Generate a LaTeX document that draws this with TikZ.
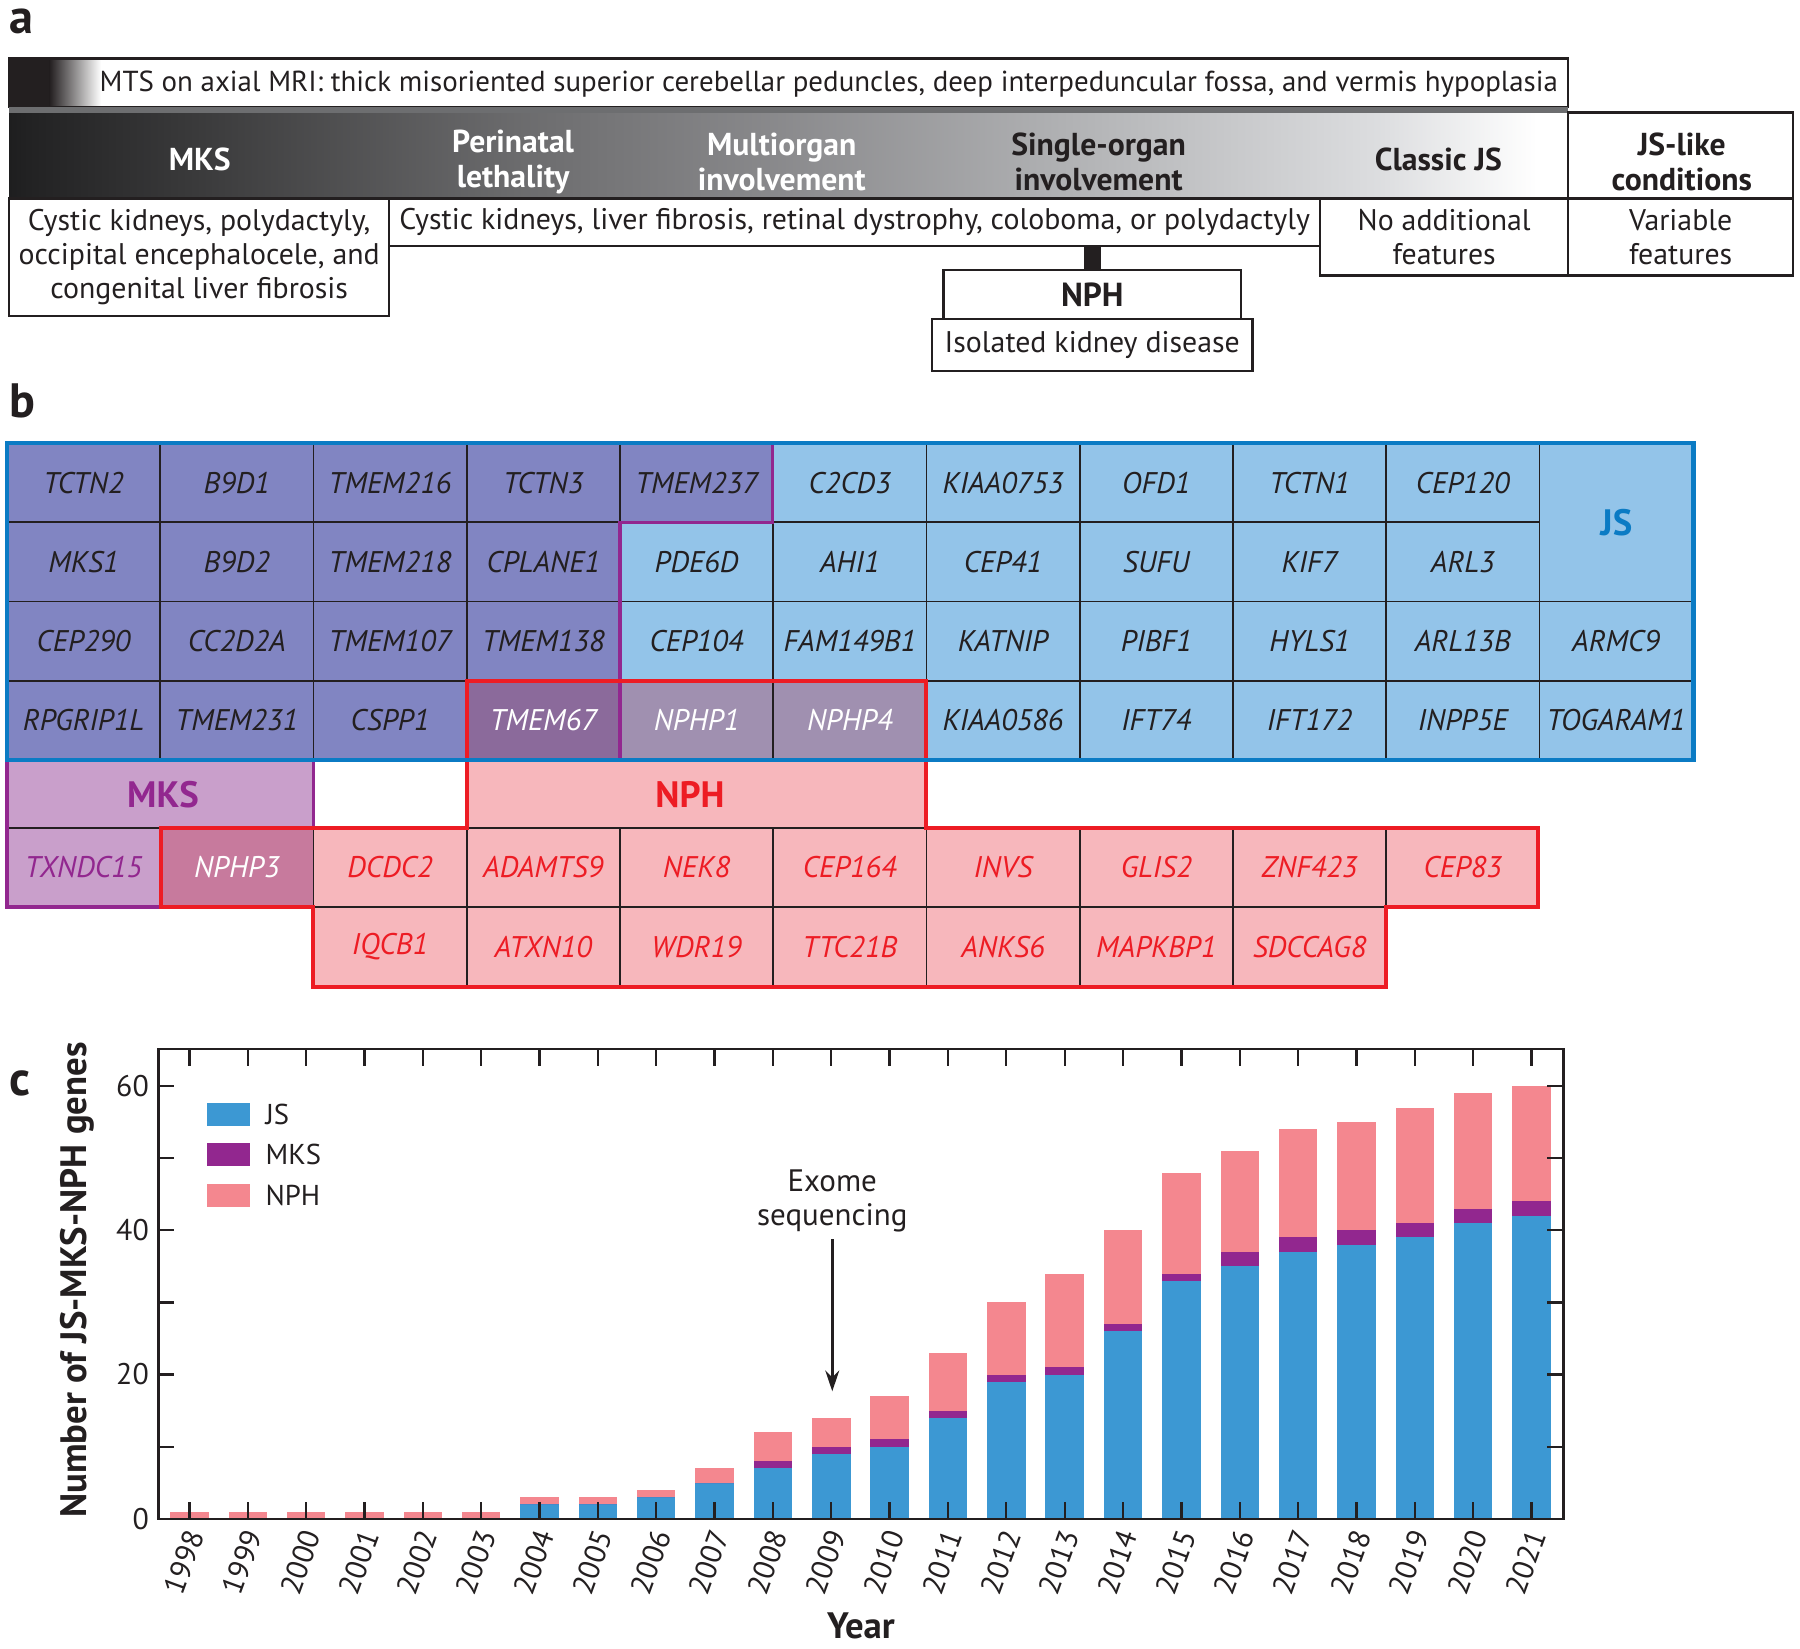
\documentclass[tikz,border=0pt]{standalone}
\usepackage{fontspec}
\setmainfont{PT Sans}
\usetikzlibrary{fit,arrows.meta}

\definecolor{ink}{HTML}{231F20}
\definecolor{mkjs}{HTML}{8185C2}
\definecolor{jsc}{HTML}{93C4E9}
\definecolor{allc}{HTML}{8B6A9B}
\definecolor{jsnph}{HTML}{A090B0}
\definecolor{mksc}{HTML}{C99FCB}
\definecolor{mksnph}{HTML}{C77A9D}
\definecolor{nphc}{HTML}{F7B7BC}
\definecolor{nphred}{HTML}{ED1C24}
\definecolor{mkspur}{HTML}{92278F}
\definecolor{jsblue}{HTML}{0B7BC4}
\definecolor{barjs}{HTML}{3C98D3}
\definecolor{barmks}{HTML}{92278F}
\definecolor{barnph}{HTML}{F4878F}
\definecolor{sepgray}{HTML}{6D6E70}

\pgfdeclarehorizontalshading{bandshade}{100bp}{rgb(0bp)=(0.118,0.118,0.122); rgb(25bp)=(0.118,0.118,0.122); rgb(25.6bp)=(0.133,0.133,0.137); rgb(31bp)=(0.228,0.228,0.232); rgb(41.3bp)=(0.42,0.42,0.427); rgb(49.7bp)=(0.54,0.54,0.55); rgb(59.7bp)=(0.706,0.71,0.718); rgb(68.9bp)=(0.863,0.867,0.875); rgb(74bp)=(1,1,1); rgb(100bp)=(1,1,1)}

\tikzset{
  abox/.style={draw=ink, line width=1pt, inner sep=0pt, outer sep=0pt},
  desc/.style={inner sep=0pt, align=center, text=ink, font=\fontsize{13}{14.75}\selectfont},
  head/.style={inner sep=0pt, align=center, font=\bfseries\fontsize{13.8}{15}\selectfont},
  cellbox/.style={draw=ink, line width=0.75pt, inner sep=0pt, outer sep=0pt},
  gene/.style={inner sep=0pt, font=\itshape\fontsize{13}{14}\selectfont},
  grp/.style={inner sep=0pt, font=\bfseries\fontsize{16}{18}\selectfont},
  panel/.style={inner sep=0pt, anchor=base west, text=ink, font=\bfseries\fontsize{21}{23}\selectfont},
  ticklab/.style={inner sep=0pt, text=ink, font=\fontsize{13}{14}\selectfont},
  leglab/.style={inner sep=0pt, anchor=west, text=ink, font=\fontsize{12.5}{14}\selectfont},
  axtitle/.style={inner sep=0pt, text=ink, font=\bfseries\fontsize{16}{18}\selectfont},
  tick/.style={draw=ink, line width=1pt},
}

\begin{document}
\begin{tikzpicture}[x=0.5pt,y=-0.5pt]
\useasboundingbox (0,0) rectangle (1568,1436);

% ---------------- panel a ----------------
\node[panel] (lab-a) at (8,29) {a};
\fill[ink] (8,51) rectangle (43,93);
\shade[left color=ink, right color=white] (43,51) rectangle (88,93);
\node[abox, fit={(8,51)(1366,93)}] (mts) {};
\node[desc, font=\fontsize{12.6}{14}\selectfont] (mts-t) at (722,73) {MTS on axial MRI: thick misoriented superior cerebellar peduncles, deep interpeduncular fossa, and vermis hypoplasia};
\fill[sepgray] (8,93) rectangle (1366,99);
\shade[shading=bandshade] (8,99) rectangle (1366,173);
\node[abox, fit={(1366,98)(1562,173)}] (jsl-h) {};

\node[head, text=white] (h-mks) at (174,139) {MKS};
\node[head, text=white] (h-peri) at (447,141) {Perinatal\\lethality};
\node[head, text=white] (h-multi) at (681,141) {Multiorgan\\involvement};
\node[head, text=ink] (h-single) at (957,141) {Single-organ\\involvement};
\node[head, text=ink] (h-classic) at (1253,139) {Classic JS};
\node[head, text=ink] (h-jsl) at (1465,141) {JS-like\\conditions};

\node[abox, fit={(8,173)(339,275)}] (d-mks) {};
\node[desc] (d-mks-t) at (d-mks.center) {Cystic kidneys, polydactyly,\\occipital encephalocele, and\\congenital liver fibrosis};
\node[abox, fit={(339,173)(1150,214)}] (d-mid) {};
\node[desc] (d-mid-t) at (d-mid.center) {Cystic kidneys, liver fibrosis, retinal dystrophy, coloboma, or polydactyly};
\node[abox, fit={(1150,173)(1366,240)}] (d-cls) {};
\node[desc] (d-cls-t) at (d-cls.center) {No additional\\features};
\node[abox, fit={(1366,173)(1562,240)}] (d-jsl) {};
\node[desc] (d-jsl-t) at (d-jsl.center) {Variable\\features};
\node[abox, fit={(822,235)(1081,278)}] (nph-b) {};
\node[head, text=ink, font=\bfseries\fontsize{14.5}{16}\selectfont] (nph-b-t) at (nph-b.center) {NPH};
\node[abox, fit={(812,278)(1091,323)}] (iso-b) {};
\node[desc] (iso-b-t) at (iso-b.center) {Isolated kidney disease};
\draw[ink, line width=7.5pt] (d-mid.south -| nph-b.north) -- (nph-b.north);

% ---------------- panel b ----------------
\node[panel] (lab-b) at (8,364) {b};
\foreach \r/\c/\g/\f/\t in {
 0/0/TCTN2/mkjs/ink, 0/1/B9D1/mkjs/ink, 0/2/TMEM216/mkjs/ink, 0/3/TCTN3/mkjs/ink, 0/4/TMEM237/mkjs/ink,
 0/5/C2CD3/jsc/ink, 0/6/KIAA0753/jsc/ink, 0/7/OFD1/jsc/ink, 0/8/TCTN1/jsc/ink, 0/9/CEP120/jsc/ink,
 1/0/MKS1/mkjs/ink, 1/1/B9D2/mkjs/ink, 1/2/TMEM218/mkjs/ink, 1/3/CPLANE1/mkjs/ink,
 1/4/PDE6D/jsc/ink, 1/5/AHI1/jsc/ink, 1/6/CEP41/jsc/ink, 1/7/SUFU/jsc/ink, 1/8/KIF7/jsc/ink, 1/9/ARL3/jsc/ink,
 2/0/CEP290/mkjs/ink, 2/1/CC2D2A/mkjs/ink, 2/2/TMEM107/mkjs/ink, 2/3/TMEM138/mkjs/ink,
 2/4/CEP104/jsc/ink, 2/5/FAM149B1/jsc/ink, 2/6/KATNIP/jsc/ink, 2/7/PIBF1/jsc/ink, 2/8/HYLS1/jsc/ink, 2/9/ARL13B/jsc/ink, 2/10/ARMC9/jsc/ink,
 3/0/RPGRIP1L/mkjs/ink, 3/1/TMEM231/mkjs/ink, 3/2/CSPP1/mkjs/ink, 3/3/TMEM67/allc/white,
 3/4/NPHP1/jsnph/white, 3/5/NPHP4/jsnph/white, 3/6/KIAA0586/jsc/ink, 3/7/IFT74/jsc/ink, 3/8/IFT172/jsc/ink, 3/9/INPP5E/jsc/ink, 3/10/TOGARAM1/jsc/ink,
 5/0/TXNDC15/mksc/mkspur, 5/1/NPHP3/mksnph/white, 5/2/DCDC2/nphc/nphred, 5/3/ADAMTS9/nphc/nphred, 5/4/NEK8/nphc/nphred,
 5/5/CEP164/nphc/nphred, 5/6/INVS/nphc/nphred, 5/7/GLIS2/nphc/nphred, 5/8/ZNF423/nphc/nphred, 5/9/CEP83/nphc/nphred,
 6/2/IQCB1/nphc/nphred, 6/3/ATXN10/nphc/nphred, 6/4/WDR19/nphc/nphred, 6/5/TTC21B/nphc/nphred, 6/6/ANKS6/nphc/nphred,
 6/7/MAPKBP1/nphc/nphred, 6/8/SDCCAG8/nphc/nphred}{
  \pgfmathsetmacro\xa{6+133.5*\c}
  \pgfmathsetmacro\xb{\xa+133.5}
  \pgfmathsetmacro\ya{{386,455,524,593,662,721,790,860}[\r]}
  \pgfmathsetmacro\yb{{386,455,524,593,662,721,790,860}[\r+1]}
  \node[cellbox, fill=\f, fit={(\xa,\ya)(\xb,\yb)}] (cell-\r-\c) {};
  \node[gene, text=\t] (gene-\r-\c) at (cell-\r-\c.center) {\g};
}
\node[cellbox, fill=jsc, fit={(1341,386)(1475,524)}] (cell-js) {};
\node[grp, text=jsblue] (grp-js) at (cell-js.center) {JS};
\node[inner sep=0pt, outer sep=0pt, fill=mksc, fit={(6,662)(273,721)}] (hdr-mks) {};
\node[grp, text=mkspur] (grp-mks) at (142,692) {MKS};
\node[inner sep=0pt, outer sep=0pt, fill=nphc, fit={(407,662)(807,721)}] (hdr-nph) {};
\node[grp, text=nphred] (grp-nph) at (601,692) {NPH};
\draw[ink, line width=0.75pt] (6,721) -- (407,721);
\draw[ink, line width=0.75pt] (407,721) -- (807,721);

\draw[mkspur, line width=1.5pt] (673,386) -- (673,455) -- (540,455) -- (540,662);
\draw[mkspur, line width=1.5pt] (273,662) -- (273,721);
\draw[mkspur, line width=1.5pt] (6,662) -- (6,790) -- (140,790);
\draw[nphred, line width=1.75pt, line join=miter] (407,593) -- (807,593) -- (807,721) -- (1340,721) -- (1340,790) -- (1207,790) -- (1207,860) -- (273,860) -- (273,790) -- (140,790) -- (140,721) -- (407,721) -- cycle;
\draw[jsblue, line width=2pt] (6,386) rectangle (1475,662);

% ---------------- panel c ----------------
\node[panel] (lab-c) at (8,954) {c};
\foreach \yr/\vj/\vm/\vn in {1998/0/0/1, 1999/0/0/1, 2000/0/0/1, 2001/0/0/1, 2002/0/0/1, 2003/0/0/1,
  2004/2/0/1, 2005/2/0/1, 2006/3/0/1, 2007/5/0/2, 2008/7/1/4, 2009/9/1/4, 2010/10/1/6, 2011/14/1/8,
  2012/19/1/10, 2013/20/1/13, 2014/26/1/13, 2015/33/1/14, 2016/35/2/14, 2017/37/2/15, 2018/38/2/15,
  2019/39/2/16, 2020/41/2/16, 2021/42/2/16}{
  \pgfmathsetmacro\xc{165+(\yr-1998)*50.83}
  \pgfmathsetmacro\xl{\xc-16.75}
  \pgfmathsetmacro\xr{\xc+16.75}
  \pgfmathsetmacro\yj{1323-\vj*6.283}
  \pgfmathsetmacro\ym{1323-(\vj+\vm)*6.283}
  \pgfmathsetmacro\yn{1323-(\vj+\vm+\vn)*6.283}
  \fill[barjs] (\xl,1323) rectangle (\xr,\yj);
  \fill[barmks] (\xl,\yj) rectangle (\xr,\ym);
  \fill[barnph] (\xl,\ym) rectangle (\xr,\yn);
  \draw[tick] (\xc,1323) -- ++(0,-15);
  \draw[tick] (\xc,914) -- ++(0,15);
  \node[ticklab, rotate=70, anchor=east] (yr-\yr) at (\xc+5,1334) {\yr};
}
\foreach \v in {0,10,...,60}{
  \pgfmathsetmacro\yy{1323-\v*6.283}
  \draw[tick] (138,\yy) -- ++(14,0);
  \draw[tick] (1362,\yy) -- ++(-14,0);
}
\foreach \v in {0,20,40,60}{
  \pgfmathsetmacro\yy{1323-\v*6.283}
  \node[ticklab, anchor=east] (ylab-\v) at (130,\yy) {\v};
}
\node[abox, fit={(138,914)(1362,1323)}] (plot) {};

\node[inner sep=0pt, fill=barjs, fit={(180,961)(218,981)}] (sw-js) {};
\node[leglab] (lg-js) at (231,971) {JS};
\node[inner sep=0pt, fill=barmks, fit={(180,996)(218,1016)}] (sw-mks) {};
\node[leglab] (lg-mks) at (231,1006) {MKS};
\node[inner sep=0pt, fill=barnph, fit={(180,1031)(218,1051)}] (sw-nph) {};
\node[leglab] (lg-nph) at (231,1041) {NPH};

\node[inner sep=0pt, align=center, text=ink, font=\fontsize{13.5}{15}\selectfont] (exome) at (725,1046) {Exome\\sequencing};
\coordinate (exend) at (725,1212);
\draw[ink, line width=1.5pt, -{Stealth[length=9pt,width=6pt]}, shorten <=3pt] (exome.south) -- (exend);

\node[axtitle, rotate=90] (ytitle) at (67,1115) {Number of JS-MKS-NPH genes};
\node[axtitle] (xtitle) at (750,1416) {Year};
\end{tikzpicture}
\end{document}
